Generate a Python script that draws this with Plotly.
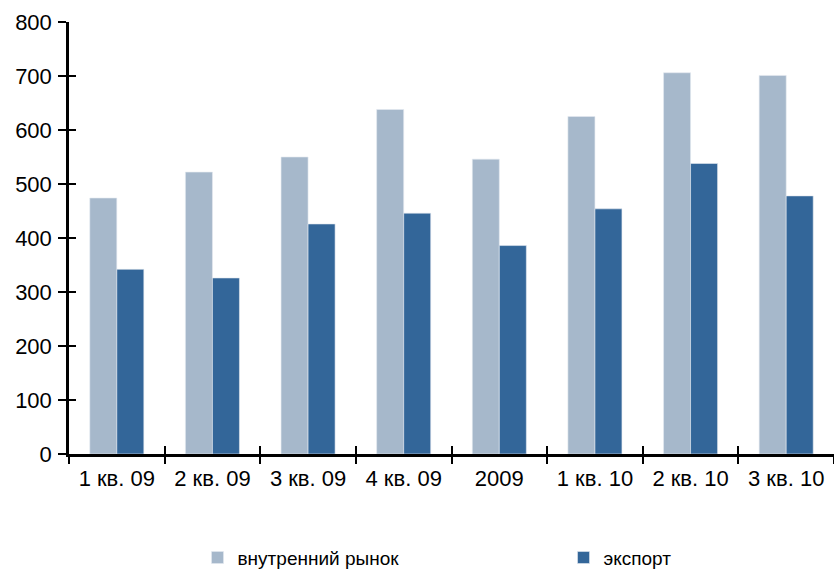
import plotly.graph_objects as go

categories = ["1 кв. 09", "2 кв. 09", "3 кв. 09", "4 кв. 09", "2009", "1 кв. 10", "2 кв. 10", "3 кв. 10"]
domestic = [474, 522, 550, 638, 546, 625, 706, 701]
export = [342, 326, 426, 446, 386, 454, 538, 478]
series_names = ["внутренний рынок", "экспорт"]
y_ticks = [0, 100, 200, 300, 400, 500, 600, 700, 800]

LIGHT = "#A6B8CB"
DARK = "#336699"
FONT = "Arial, Liberation Sans, sans-serif"

fig = go.Figure()
fig.add_trace(go.Bar(x=categories, y=domestic, name=series_names[0],
                     marker=dict(color=LIGHT, line=dict(color="#E4EAF0", width=0.6))))
fig.add_trace(go.Bar(x=categories, y=export, name=series_names[1],
                     marker=dict(color=DARK, line=dict(color="#E4EAF0", width=0.6))))
# invisible trace to carry the overlay axes (inner half of crossing ticks)
fig.add_trace(go.Scatter(x=[], y=[], xaxis="x2", yaxis="y2", showlegend=False, hoverinfo="skip"))

fig.update_layout(
    width=834, height=569,
    margin=dict(l=69, r=0, t=22, b=115, autoexpand=False),
    paper_bgcolor="white", plot_bgcolor="white",
    barmode="group", bargap=0.435, bargroupgap=0,
    font=dict(family=FONT, size=21, color="black"),
    showlegend=True,
    legend=dict(orientation="h", x=0.168, xanchor="left", y=-0.24, yanchor="middle",
                font=dict(family=FONT, size=19, color="black"),
                entrywidth=321, entrywidthmode="pixels",
                bgcolor="rgba(0,0,0,0)", itemclick=False),
    xaxis=dict(type="category", showgrid=False, showline=True, linecolor="black", linewidth=2.5,
               ticks="outside", tickson="boundaries", ticklen=7, tickwidth=2, tickcolor="black",
               tickfont=dict(size=22), ticklabelstandoff=3, range=[-0.5, 7.5], zeroline=False),
    yaxis=dict(range=[0, 800], tickvals=y_ticks, showgrid=False, showline=True, linecolor="black",
               linewidth=2.5, ticks="outside", ticklen=8, tickwidth=2, tickcolor="black",
               tickfont=dict(size=22), ticklabelstandoff=2, zeroline=False),
    xaxis2=dict(overlaying="x", range=[-0.5, 7.5], tickvals=[i - 0.5 for i in range(9)],
                ticks="inside", ticklen=8, tickwidth=2, tickcolor="black",
                showticklabels=False, showline=False, showgrid=False, zeroline=False, anchor="y2"),
    yaxis2=dict(overlaying="y", range=[0, 800], tickvals=y_ticks, side="left",
                ticks="inside", ticklen=7, tickwidth=2, tickcolor="black",
                showticklabels=False, showline=False, showgrid=False, zeroline=False, anchor="x2"),
)

fig.write_html("out.html")
